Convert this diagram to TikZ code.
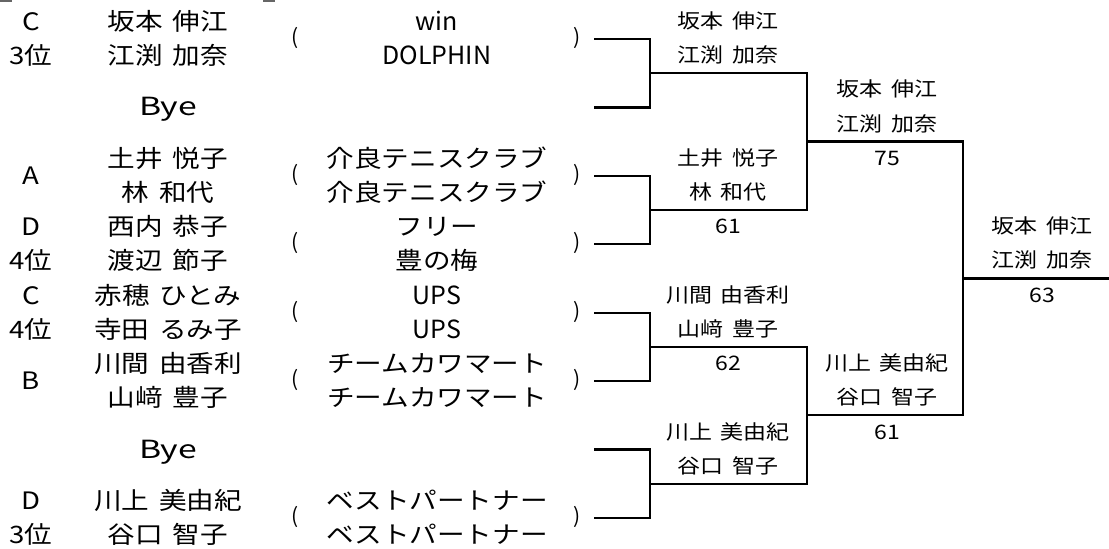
\documentclass[tikz,border=0pt]{standalone}
\usepackage{fontspec}
\usepackage{tikz}
\setmainfont{Noto Sans CJK JP}
\newfontfamily\jpw[FakeStretch=1.15, WordSpace=1.6]{Noto Sans CJK JP}
\newfontfamily\byew[FakeStretch=1.35]{Noto Sans CJK JP}

\begin{document}
\begin{tikzpicture}[x=0.5pt, y=-0.5pt]
        \tikzstyle{seed} = [font=\jpw\fontsize{12}{14}\selectfont, inner sep=0pt, text height=10pt, text depth=2pt]
        \tikzstyle{player} = [font=\jpw\fontsize{12}{14}\selectfont, inner sep=0pt, text height=10pt, text depth=2pt]
        \tikzstyle{club} = [font=\jpw\fontsize{12}{14}\selectfont, inner sep=0pt, text height=10pt, text depth=2pt]
        \tikzstyle{clublat} = [font=\fontsize{12.5}{14}\selectfont, inner sep=0pt, text height=10pt, text depth=2pt]
        \tikzstyle{byebox} = [font=\byew\fontsize{12.5}{14}\selectfont, inner sep=0pt, text height=10pt, text depth=2pt]
        \tikzstyle{paren} = [font=\fontsize{10.5}{12}\selectfont, inner sep=0pt]
        \tikzstyle{winner} = [font=\jpw\fontsize{10}{12}\selectfont, inner sep=0pt, text height=8.5pt, text depth=1.7pt]
        \tikzstyle{bline} = [line width=1.1pt, black]

        \useasboundingbox (0,0) rectangle (1109,548);
        \draw[line width=1pt, black!60] (0,1) -- (12,1);
        \draw[line width=1pt, black!60] (263,1) -- (275,1);

        % Seeds
        \node[seed] (s1) at (31,22) {C};
        \node[seed] (s2) at (31,56) {3位};
        \node[seed] (s3) at (31,176) {A};
        \node[seed] (s4) at (31,227) {D};
        \node[seed] (s5) at (31,261) {4位};
        \node[seed] (s6) at (31,296) {C};
        \node[seed] (s7) at (31,330) {4位};
        \node[seed] (s8) at (31,381) {B};
        \node[seed] (s9) at (31,501) {D};
        \node[seed] (s10) at (31,535) {3位};

        % Players
        \node[player] (p1) at (168,22) {坂本 伸江};
        \node[player] (p2) at (168,56) {江渕 加奈};
        \node[byebox] (bye1) at (168,107) {Bye};
        \node[player] (p3) at (168,159) {土井 悦子};
        \node[player] (p4) at (168,193) {林 和代};
        \node[player] (p5) at (168,227) {西内 恭子};
        \node[player] (p6) at (168,261) {渡辺 節子};
        \node[player] (p7) at (168,296) {赤穂 ひとみ};
        \node[player] (p8) at (168,330) {寺田 るみ子};
        \node[player] (p9) at (168,364) {川間 由香利};
        \node[player] (p10) at (168,398) {山﨑 豊子};
        \node[byebox] (bye2) at (168,450) {Bye};
        \node[player] (p11) at (168,501) {川上 美由紀};
        \node[player] (p12) at (168,535) {谷口 智子};

        % Clubs
        \node[clublat] (c1) at (437,22) {win};
        \node[clublat] (c2) at (437,56) {DOLPHIN};
        \node[club] (c3) at (437,159) {介良テニスクラブ};
        \node[club] (c4) at (437,193) {介良テニスクラブ};
        \node[club] (c5) at (437,227) {フリー};
        \node[club] (c6) at (437,261) {豊の梅};
        \node[clublat] (c7) at (437,296) {UPS};
        \node[clublat] (c8) at (437,330) {UPS};
        \node[club] (c9) at (437,364) {チームカワマート};
        \node[club] (c10) at (437,398) {チームカワマート};
        \node[club] (c11) at (437,501) {ベストパートナー};
        \node[club] (c12) at (437,535) {ベストパートナー};

        % Brackets round the clubs
        \node[paren] (pl1) at (295,38) {(};
        \node[paren] (pr1) at (577,38) {)};
        \node[paren] (pl2) at (295,175) {(};
        \node[paren] (pr2) at (577,175) {)};
        \node[paren] (pl3) at (295,243) {(};
        \node[paren] (pr3) at (577,243) {)};
        \node[paren] (pl4) at (295,312) {(};
        \node[paren] (pr4) at (577,312) {)};
        \node[paren] (pl5) at (295,380) {(};
        \node[paren] (pr5) at (577,380) {)};
        \node[paren] (pl6) at (295,517) {(};
        \node[paren] (pr6) at (577,517) {)};

        % Draw lines
        \coordinate (e1) at (594,39);
        \coordinate (e2) at (594,107.5);
        \coordinate (e3) at (594,176);
        \coordinate (e4) at (594,244);
        \coordinate (e5) at (594,313);
        \coordinate (e6) at (594,381);
        \coordinate (e7) at (594,449.5);
        \coordinate (e8) at (594,518);
        \coordinate (j1) at (650,73);
        \coordinate (j2) at (650,210);
        \coordinate (j3) at (650,347);
        \coordinate (j4) at (650,484);
        \coordinate (k1) at (807,141.5);
        \coordinate (k2) at (807,415);
        \coordinate (f) at (963,278.5);
        \coordinate (fend) at (1109,278.5);

        \draw[bline] (e1) -| (j1);
        \draw[bline] (e2) -| (j1);
        \draw[bline] (e3) -| (j2);
        \draw[bline] (e4) -| (j2);
        \draw[bline] (e5) -| (j3);
        \draw[bline] (e6) -| (j3);
        \draw[bline] (e7) -| (j4);
        \draw[bline] (e8) -| (j4);
        \draw[bline] (j1) -| (k1);
        \draw[bline] (j2) -| (k1);
        \draw[bline] (j3) -| (k2);
        \draw[bline] (j4) -| (k2);
        \draw[bline] (k1) -| (f);
        \draw[bline] (k2) -| (f);
        \draw[bline] (f) -- (fend);

        % Winners
        \node[winner] (w1) at (728,22) {坂本 伸江};
        \node[winner] (w2) at (728,56) {江渕 加奈};
        \node[winner] (w3) at (728,159) {土井 悦子};
        \node[winner] (w4) at (728,193) {林 和代};
        \node[winner] (sc1) at (728,227) {61};
        \node[winner] (w5) at (728,296) {川間 由香利};
        \node[winner] (w6) at (728,330) {山﨑 豊子};
        \node[winner] (sc2) at (728,364) {62};
        \node[winner] (w7) at (728,433) {川上 美由紀};
        \node[winner] (w8) at (728,467) {谷口 智子};

        \node[winner] (w9) at (887,90) {坂本 伸江};
        \node[winner] (w10) at (887,125) {江渕 加奈};
        \node[winner] (sc3) at (887,159) {75};
        \node[winner] (w11) at (887,364) {川上 美由紀};
        \node[winner] (w12) at (887,398) {谷口 智子};
        \node[winner] (sc4) at (887,433) {61};

        \node[winner] (w13) at (1042,227) {坂本 伸江};
        \node[winner] (w14) at (1042,261) {江渕 加奈};
        \node[winner] (sc5) at (1042,296) {63};
    \end{tikzpicture}
\end{document}
